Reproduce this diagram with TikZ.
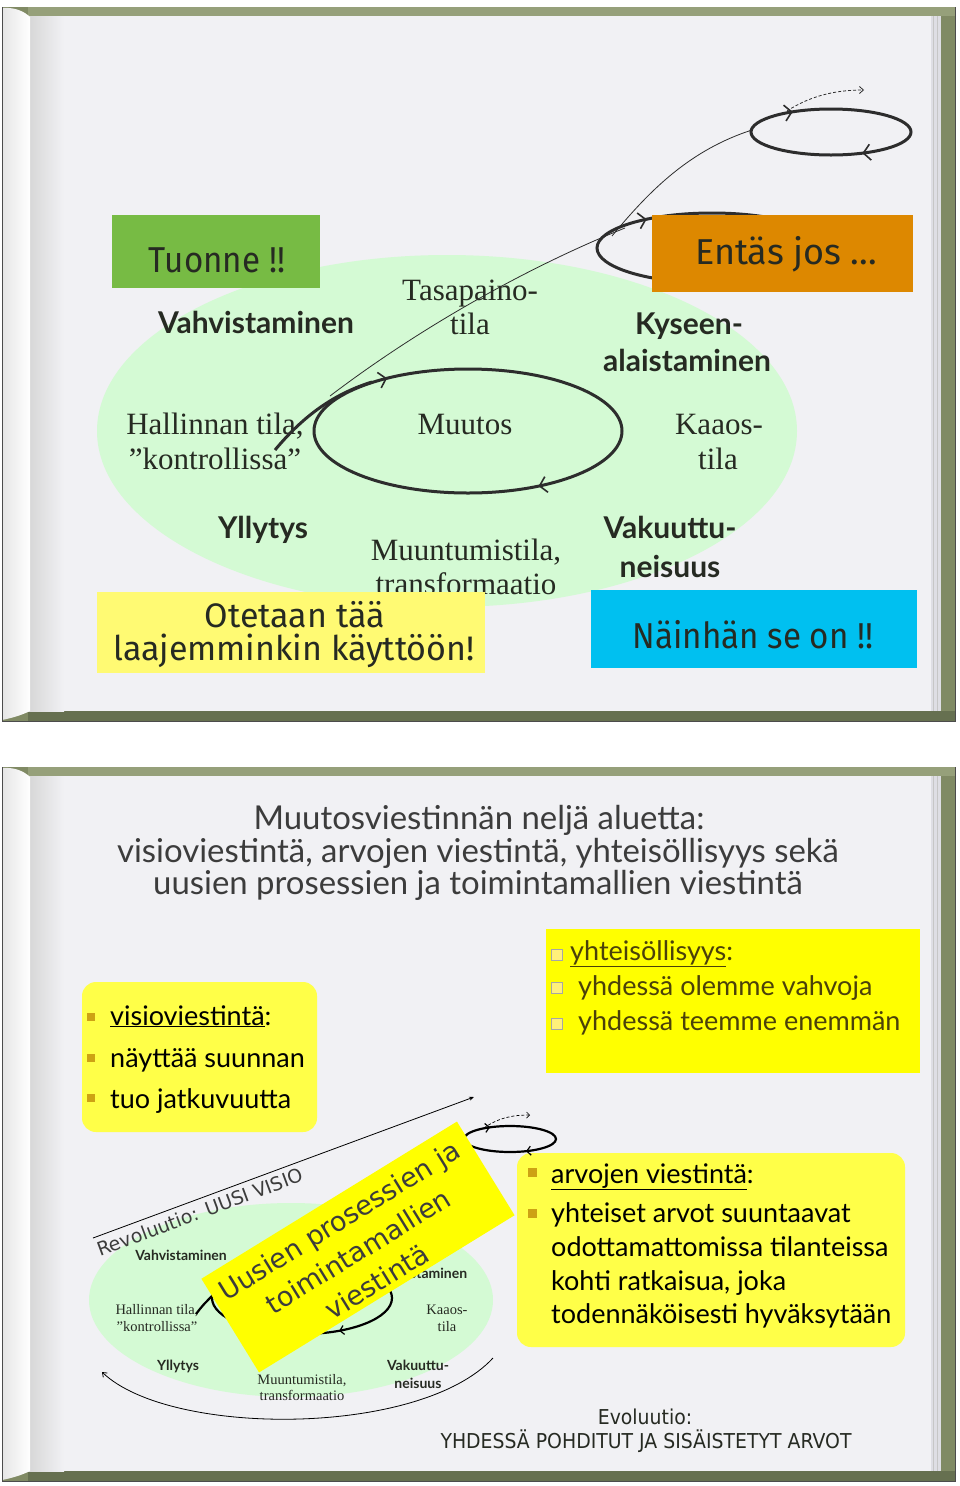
\documentclass[tikz,border=0pt]{standalone}
\usepackage{fontspec}
\setmainfont{Liberation Serif}
\newfontfamily\opt{Lato}
\newfontfamily\comic{Fira Sans}
\newfontfamily\comicA[FakeStretch=0.92]{Fira Sans}
\newfontfamily\verd{DejaVu Sans}
\newfontfamily\tah[FakeStretch=0.92]{DejaVu Sans}
\usetikzlibrary{arrows.meta,decorations.markings}
\definecolor{coverc}{RGB}{128,138,100}
\definecolor{covertop}{RGB}{150,160,122}
\definecolor{coverbot}{RGB}{102,112,80}
\definecolor{pagec}{RGB}{241,241,244}
\definecolor{stackc}{RGB}{222,222,228}
\definecolor{ink}{RGB}{38,42,34}
\definecolor{lgreen}{RGB}{212,250,212}
\definecolor{tgreen}{RGB}{119,187,68}
\definecolor{torange}{RGB}{221,136,0}
\definecolor{tcyan}{RGB}{0,192,240}
\definecolor{tyel}{RGB}{255,250,115}
\definecolor{byel}{RGB}{255,255,72}
\definecolor{pyel}{RGB}{255,255,0}
\definecolor{gold}{RGB}{205,162,20}
\definecolor{olivetext}{RGB}{75,65,10}
\definecolor{orbitc}{RGB}{45,45,45}
\definecolor{titlec}{RGB}{60,60,60}
\newcommand\bookframe[2]{%
  \fill[coverc] (2,#1) rectangle (955,#2);
  \fill[covertop] (28,#1) rectangle (955,{#1+9});
  \fill[coverbot] (28,{#2-10}) rectangle (955,#2);
  \fill[pagec] (2,{#1+9}) rectangle (941,{#2-10});
  \shade[left color=gray!32, right color=pagec] (28,{#1+9}) rectangle (64,{#2-10});
  \fill[stackc] (931,{#1+9}) rectangle (941,{#2-10});
  \draw[gray!45, line width=0.6pt] (933,{#1+9}) -- (933,{#2-10}) (937,{#1+9}) -- (937,{#2-10});
  \shade[left color=gray!20, right color=white] (2,{#1+1}) .. controls (14,#1) and (24,{#1+4}) .. (30,{#1+10}) -- (30,{#2-10}) .. controls (22,{#2-6}) and (12,{#2-3}) .. (2,{#2-1}) -- cycle;
  \draw[gray!60!black, line width=1pt] (2,#1) -- (2,#2) -- (955,#2) -- (955,#1);
}
\tikzset{
  serif/.style={font=\fontsize{31pt}{34pt}\selectfont, text=ink, anchor=base, inner sep=0pt},
  bsans/.style={font=\opt\bfseries\fontsize{30pt}{34pt}\selectfont, text=ink, anchor=base, inner sep=0pt},
  sserif/.style={font=\fontsize{14.5pt}{16pt}\selectfont, text=ink, anchor=base, inner sep=0pt},
  sbsans/.style={font=\opt\bfseries\fontsize{14pt}{16pt}\selectfont, text=ink, anchor=base, inner sep=0pt},
  ctext/.style={font=\comic\fontsize{36pt}{40pt}\selectfont, text=ink, anchor=base, inner sep=0pt},
  plainbox/.style={inner sep=0pt, draw=none},
  orbit/.style={line width=3pt, draw=orbitc},
  sorbit/.style={line width=2.2pt, draw=black},
  thinline/.style={line width=0.8pt, draw=orbitc},
  orbarrows/.style 2 args={postaction={decorate,decoration={markings,
     mark=at position #1 with {\arrow[line width=1.6pt]{Straight Barb[length=7pt,width=16pt]}},
     mark=at position #2 with {\arrow[line width=1.6pt]{Straight Barb[length=7pt,width=16pt]}}}}},
  sorbarrows/.style 2 args={postaction={decorate,decoration={markings,
     mark=at position #1 with {\arrow[line width=1.2pt]{Straight Barb[length=4pt,width=9pt]}},
     mark=at position #2 with {\arrow[line width=1.2pt]{Straight Barb[length=4pt,width=9pt]}}}}},
  listtxt/.style={font=\opt\fontsize{27pt}{31pt}\selectfont, text=black, anchor=base west, inner sep=0pt},
  titletxt/.style={font=\opt\fontsize{32.9pt}{36pt}\selectfont, text=titlec, anchor=base, inner sep=0pt},
}
\begin{document}
\begin{tikzpicture}[x=1pt,y=-1pt]
\useasboundingbox (0,0) rectangle (960,1486);
\fill[white] (0,0) rectangle (960,1486);
\bookframe{7}{721}
\bookframe{767}{1481}

% ================= Slide 1 =================
\fill[lgreen] (447,431) ellipse [x radius=350, y radius=176];

\node[bsans] (vahv) at (256,333) {Vahvistaminen};
\node[serif] (tasa1) at (470,300) {Tasapaino-};
\node[serif] (tasa2) at (470,334) {tila};
\node[bsans] (kys1) at (689,334) {Kyseen-};
\node[bsans] (kys2) at (687,371) {alaistaminen};
\node[serif] (hall1) at (215,434) {Hallinnan tila,};
\node[serif] (hall2) at (215,469) {”kontrollissa”};
\node[serif] (muutos) at (465,434) {Muutos};
\node[serif] (kaaos1) at (719,434) {Kaaos-};
\node[serif] (kaaos2) at (718,469) {tila};
\node[bsans] (yll) at (263,538) {Yllytys};
\node[serif] (muun1) at (466,560) {Muuntumistila,};
\node[serif] (muun2) at (466,594) {transformaatio};
\node[bsans] (vak1) at (670,538) {Vakuuttu-};
\node[bsans] (vak2) at (670,577) {neisuus};

% orbits
\draw[orbit, orbarrows={0.15}{0.635}] (468,431) ellipse [x radius=154, y radius=62];
\draw[orbit, orbarrows={0.16}{0.64}] (831,132) ellipse [x radius=80, y radius=23];
\draw[orbit, orbarrows={0.2}{0.62}] (712,248) ellipse [x radius=115, y radius=35];

\coordinate (k1a) at (275,450);
\coordinate (k1b) at (372,382);
\draw[orbit] (k1a) .. controls (300,420) and (330,395) .. (k1b);
\coordinate (c1a) at (330,396);
\coordinate (c1b) at (625,228);
\coordinate (c2a) at (612,236);
\coordinate (c2b) at (752,130);
\draw[thinline] (c1a) .. controls (430,320) and (540,262) .. (c1b);
\draw[thinline] (c2a) .. controls (650,190) and (690,150) .. (c2b);
\coordinate (d1a) at (787,111);
\coordinate (d1b) at (864,90);
\draw[thinline, densely dashed, -{Straight Barb[length=4pt,width=7pt]}] (d1a) .. controls (810,96) and (835,90) .. (d1b);

% boxes
\node[plainbox, fill=tgreen, minimum width=208pt, minimum height=73pt] (tuonneb) at (216,251.5) {};
\node[ctext, font=\comicA\fontsize{36pt}{40pt}\selectfont] (tuonne) at (217,272) {Tuonne !!};
\node[plainbox, fill=torange, minimum width=261pt, minimum height=77pt] (entasb) at (782.5,253.5) {};
\node[ctext] (entas) at (786,264) {Entäs jos ...};
\node[plainbox, fill=tyel, minimum width=388pt, minimum height=81pt] (otetb) at (291,632.5) {};
\node[ctext, font=\comic\fontsize{34pt}{40pt}\selectfont] (otet1) at (295,627) {Otetaan tää};
\node[ctext, font=\comic\fontsize{34pt}{40pt}\selectfont] (otet2) at (294,660) {laajemminkin käyttöön!};
\node[plainbox, fill=tcyan, minimum width=326pt, minimum height=78pt] (nainb) at (754,629) {};
\node[ctext, font=\comicA\fontsize{36pt}{40pt}\selectfont] (nain) at (753,648) {Näinhän se on !!};

% ================= Slide 2 =================
\node[titletxt] (tit1) at (479,829) {Muutosviestinnän neljä aluetta:};
\node[titletxt] (tit2) at (478,862) {visioviestintä, arvojen viestintä, yhteisöllisyys sekä};
\node[titletxt] (tit3) at (478,894) {uusien prosessien ja toimintamallien viestintä};

% box 1
\node[plainbox, fill=byel, rounded corners=14pt, minimum width=235pt, minimum height=150pt] (box1) at (199.5,1057) {};
\fill[gold] (87,1013) rectangle (95,1021);
\fill[gold] (87,1054) rectangle (95,1062);
\fill[gold] (87,1094) rectangle (95,1102);
\node[listtxt] (b1a) at (110,1025) {\underline{visioviestintä}:};
\node[listtxt] (b1b) at (110,1067) {näyttää suunnan};
\node[listtxt] (b1c) at (110,1108) {tuo jatkuvuutta};

% box 2
\node[plainbox, fill=pyel, minimum width=374pt, minimum height=144pt] (box2) at (733,1001) {};
\foreach \yy in {955,988,1024}{
  \filldraw[fill=white!80!orange!60!yellow, draw=gray!70, line width=0.7pt] (551,{\yy-5.5}) rectangle (562,{\yy+5.5});
}
\node[listtxt, text=olivetext] (b2a) at (570,960) {\underline{yhteisöllisyys}:};
\node[listtxt, text=olivetext] (b2b) at (578,995) {yhdessä olemme vahvoja};
\node[listtxt, text=olivetext] (b2c) at (578,1030) {yhdessä teemme enemmän};

% box 3
\node[plainbox, fill=byel, rounded corners=14pt, minimum width=388pt, minimum height=194pt] (box3) at (711,1250) {};
\fill[gold] (528,1168) rectangle (537,1177);
\fill[gold] (528,1209) rectangle (537,1218);
\node[listtxt] (b3a) at (551,1183) {\underline{arvojen viestintä}:};
\node[listtxt] (b3b) at (551,1222) {yhteiset arvot suuntaavat};
\node[listtxt] (b3c) at (551,1256) {odottamattomissa tilanteissa};
\node[listtxt] (b3d) at (551,1290) {kohti ratkaisua, joka};
\node[listtxt] (b3e) at (551,1323) {todennäköisesti hyväksytään};

% evolution text
\node[font=\tah\fontsize{20.5pt}{24pt}\selectfont, text=ink, anchor=base, inner sep=0pt] (evo1) at (645,1424) {Evoluutio:};
\node[font=\tah\fontsize{20.5pt}{24pt}\selectfont, text=ink, anchor=base, inner sep=0pt] (evo2) at (646,1448) {YHDESSÄ POHDITUT JA SISÄISTETYT ARVOT};

% small diagram
\fill[lgreen] (291,1300) ellipse [x radius=202, y radius=97];
\node[sbsans] (svahv) at (181,1260) {Vahvistaminen};
\node[sbsans] (skys2) at (428,1278) {alaistaminen};
\node[sserif] (shall1) at (157,1314) {Hallinnan tila,};
\node[sserif] (shall2) at (157,1331) {”kontrollissa”};
\node[sserif] (skaa1) at (447,1314) {Kaaos-};
\node[sserif] (skaa2) at (447,1331) {tila};
\node[sbsans] (syll) at (178,1370) {Yllytys};
\node[sserif] (smuun1) at (302,1384) {Muuntumistila,};
\node[sserif] (smuun2) at (302,1400) {transformaatio};
\node[sbsans] (svak1) at (418,1370) {Vakuuttu-};
\node[sbsans] (svak2) at (418,1388) {neisuus};

\draw[sorbit, sorbarrows={0.16}{0.66}] (302,1298) ellipse [x radius=90, y radius=36];
\coordinate (k2a) at (196,1314);
\coordinate (k2b) at (214,1294);
\draw[sorbit] (k2a) .. controls (203,1305) .. (k2b);

\draw[sorbit, sorbarrows={0.17}{0.65}] (510,1139) ellipse [x radius=46, y radius=13];
\coordinate (d2a) at (484,1128);
\coordinate (d2b) at (530,1115);
\draw[line width=0.7pt, densely dashed, -{Straight Barb[length=3pt,width=6pt]}] (d2a) .. controls (498,1118) and (512,1115) .. (d2b);

\coordinate (rev1) at (93,1238);
\coordinate (rev2) at (474,1097);
\draw[line width=0.8pt, -{Stealth[length=5pt,width=4pt]}] (rev1) -- (rev2);
\node[font=\verd\fontsize{19pt}{22pt}\selectfont, text=titlec, rotate=20.4, inner sep=0pt] (revtxt) at (200,1212) {Revoluutio: UUSI VISIO};

\coordinate (ev1) at (102,1372);
\coordinate (ev2) at (493,1358);
\draw[line width=0.8pt, {Straight Barb[length=4pt,width=6pt]}-] (ev1) .. controls (170,1437) and (420,1437) .. (ev2);

% rotated yellow box
\node[plainbox, fill=pyel, rotate=31.6, minimum width=300pt, minimum height=110pt] (procbox) at (358,1247) {};
\node[font=\verd\fontsize{27pt}{36pt}\selectfont, text=titlec, rotate=31.6, align=center, inner sep=0pt] (proctext) at (358,1251) {Uusien prosessien ja\\toimintamallien\\viestintä};
\end{tikzpicture}
\end{document}
